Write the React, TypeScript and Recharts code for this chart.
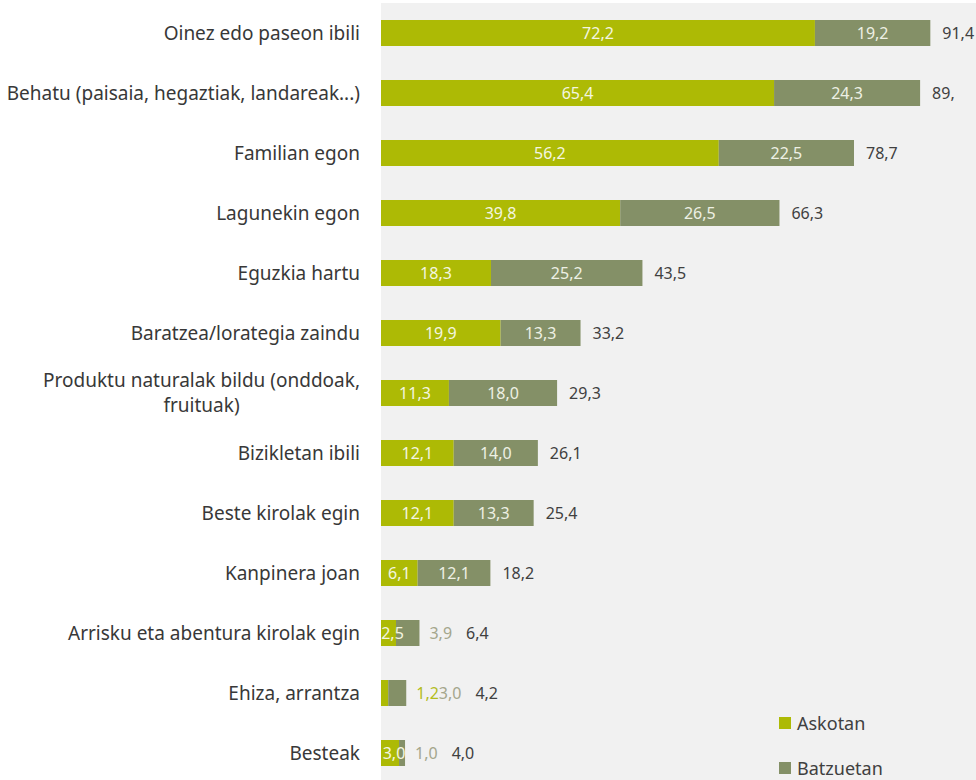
import { BarChart, Bar, XAxis, YAxis, CartesianGrid, LabelList, Legend } from "recharts";

const categories = [
  "Oinez edo paseon ibili",
  "Behatu (paisaia, hegaztiak, landareak...)",
  "Familian egon",
  "Lagunekin egon",
  "Eguzkia hartu",
  "Baratzea/lorategia zaindu",
  "Produktu naturalak bildu (onddoak,\nfruituak)",
  "Bizikletan ibili",
  "Beste kirolak egin",
  "Kanpinera joan",
  "Arrisku eta abentura kirolak egin",
  "Ehiza, arrantza",
  "Besteak",
];
const askotan = [72.2, 65.4, 56.2, 39.8, 18.3, 19.9, 11.3, 12.1, 12.1, 6.1, 2.5, 1.2, 3.0];
const batzuetan = [19.2, 24.3, 22.5, 26.5, 25.2, 13.3, 18.0, 14.0, 13.3, 12.1, 3.9, 3.0, 1.0];
const totalLabels = ["91,4", "89,", "78,7", "66,3", "43,5", "33,2", "29,3", "26,1", "25,4", "18,2", "6,4", "4,2", "4,0"];
const seriesNames = ["Askotan", "Batzuetan"];

const GREEN = "#adba05";
const OLIVE = "#849067";
const FONT = "Noto Sans";
const VAL_SIZE = 16;
const CAT_SIZE = 19;

const data = categories.map((name, i) => ({ name, askotan: askotan[i], batzuetan: batzuetan[i] }));

const fmt = (v: number) => v.toFixed(1).replace(".", ",");

let canvas: HTMLCanvasElement | null = null;
function measure(text: string, size: number) {
  if (!canvas) canvas = document.createElement("canvas");
  const ctx = canvas.getContext("2d")!;
  ctx.font = `${size}px "${FONT}"`;
  return ctx.measureText(text).width;
}

function CategoryTick(props: any) {
  const { x, y, payload } = props;
  const lines = String(payload.value).split("\n");
  if (lines.length === 1) {
    return (
      <text x={x} y={y} dy="0.35em" textAnchor="end" fontSize={CAT_SIZE} fill="#383838" fontFamily={FONT}>
        {lines[0]}
      </text>
    );
  }
  const w = measure(lines[0], CAT_SIZE);
  const mid = x - w / 2;
  return (
    <g>
      {lines.map((l, i) => (
        <text key={i} x={mid} y={y + (i - (lines.length - 1) / 2) * 25} dy="0.35em" textAnchor="middle" fontSize={CAT_SIZE} fill="#383838" fontFamily={FONT}>
          {l}
        </text>
      ))}
    </g>
  );
}

function AskotanLabel(props: any) {
  const { x, y, width, height, index } = props;
  const v = askotan[index];
  if (v < 2) return null;
  return (
    <text x={x + width / 2 + (width < 30 ? 4 : 0)} y={y + height / 2} dy="0.35em" textAnchor="middle" fontSize={VAL_SIZE} fill="#f4f6e0" fontFamily={FONT}>
      {fmt(v)}
    </text>
  );
}

function BatzuetanLabel(props: any) {
  const { x, y, width, height, index } = props;
  const a = askotan[index];
  const b = batzuetan[index];
  const cy = y + height / 2;
  const end = x + width;
  const parts: any[] = [];
  let cursor = end + 10;
  let outside = false;
  if (a < 2) {
    const t = fmt(a);
    parts.push(
      <text key="a" x={cursor} y={cy} dy="0.35em" fontSize={VAL_SIZE} fill="#b3bd1c" fontFamily={FONT}>{t}</text>
    );
    cursor += measure(t, VAL_SIZE);
    outside = true;
  }
  if (b >= 5) {
    parts.push(
      <text key="b" x={x + width / 2} y={cy} dy="0.35em" textAnchor="middle" fontSize={VAL_SIZE} fill="#eef0e4" fontFamily={FONT}>{fmt(b)}</text>
    );
  } else {
    const t = fmt(b);
    parts.push(
      <text key="b" x={cursor} y={cy} dy="0.35em" fontSize={VAL_SIZE} fill="#a4a68c" fontFamily={FONT}>{t}</text>
    );
    cursor += measure(t, VAL_SIZE);
    outside = true;
  }
  const tx = outside ? cursor + 14 : end + 12;
  parts.push(
    <text key="t" x={tx} y={cy} dy="0.35em" fontSize={VAL_SIZE} fill="#404040" fontFamily={FONT}>{totalLabels[index]}</text>
  );
  return <g>{parts}</g>;
}

function LegendBox() {
  const colors = [GREEN, OLIVE];
  return (
    <div style={{ fontFamily: FONT, fontSize: 18, color: "#404040" }}>
      {seriesNames.map((n, i) => (
        <div key={n} style={{ display: "flex", alignItems: "center", height: 45 }}>
          <span style={{ width: 12, height: 12, background: colors[i], marginRight: 6, display: "inline-block" }} />
          {n}
        </div>
      ))}
    </div>
  );
}

export default function App() {
  return (
    <div style={{ position: "absolute", left: 0, top: 0, width: 976, height: 780, overflow: "hidden", background: "#fff" }}>
      <BarChart
        width={976}
        height={783}
        data={data}
        layout="vertical"
        margin={{ top: 3, right: 0, bottom: 0, left: 0 }}
        barSize={26}
      >
        <CartesianGrid horizontal={false} vertical={false} fill="#f1f1f1" />
        <XAxis type="number" domain={[0, 99]} hide />
        <YAxis
          type="category"
          dataKey="name"
          width={381}
          tickSize={0}
          tickMargin={21}
          axisLine={false}
          tickLine={false}
          interval={0}
          tick={<CategoryTick />}
        />
        <Bar dataKey="askotan" name={seriesNames[0]} stackId="s" fill={GREEN} isAnimationActive={false}>
          <LabelList dataKey="askotan" content={<AskotanLabel />} />
        </Bar>
        <Bar dataKey="batzuetan" name={seriesNames[1]} stackId="s" fill={OLIVE} isAnimationActive={false}>
          <LabelList dataKey="batzuetan" content={<BatzuetanLabel />} />
        </Bar>
        <Legend
          layout="vertical"
          verticalAlign="middle"
          align="center"
          wrapperStyle={{ left: 779, top: 700, width: 190 }}
          content={<LegendBox />}
        />
      </BarChart>
    </div>
  );
}
